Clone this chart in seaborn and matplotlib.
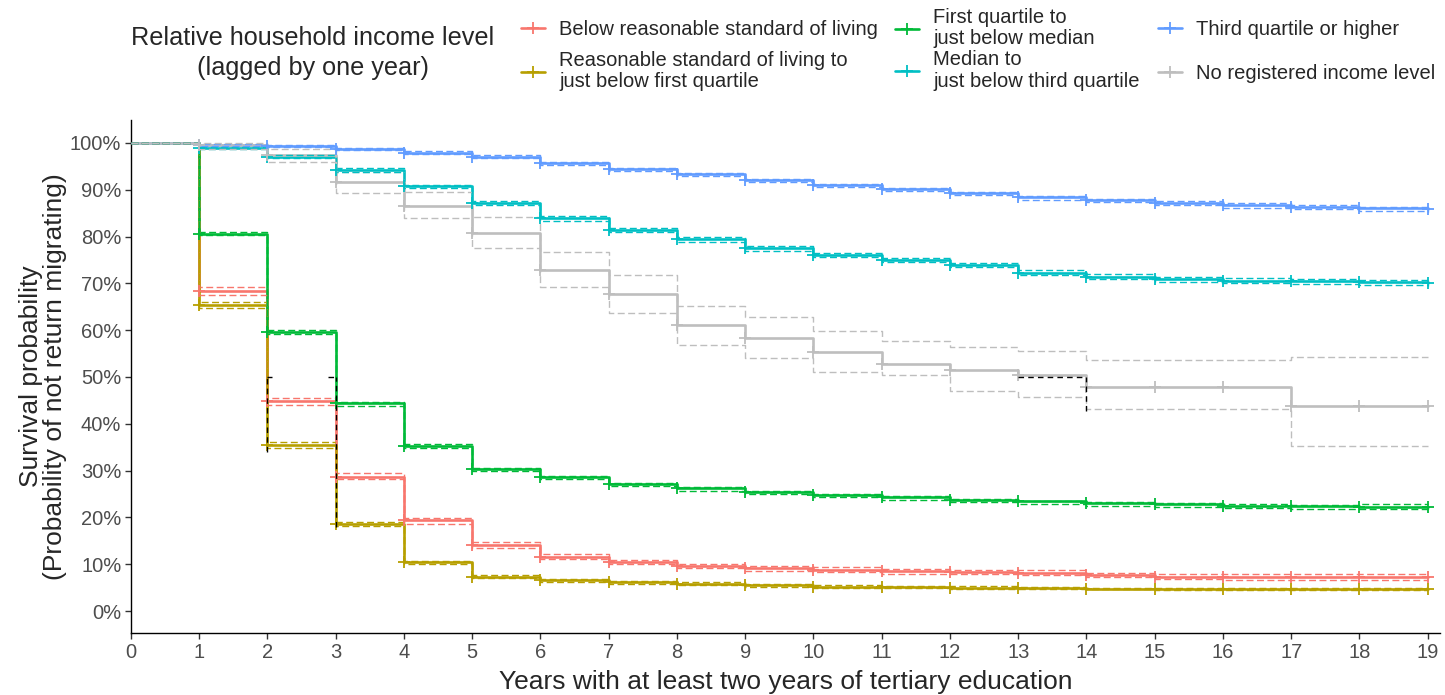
import numpy as np
import pandas as pd
import matplotlib.pyplot as plt
import seaborn as sns
from matplotlib.lines import Line2D

# survival (%) at the start of each year 0..19, step curves
years = list(range(20))

groups = [
    "Below reasonable standard of living",
    "Reasonable standard of living to\njust below first quartile",
    "First quartile to\njust below median",
    "Median to\njust below third quartile",
    "Third quartile or higher",
    "No registered income level",
]
colors = ["#F8766D", "#B79F00", "#00BA38", "#00BFC4", "#619CFF", "#BEBEBE"]

surv_below = [100, 68.4, 44.9, 28.7, 19.4, 14.2, 11.6, 10.5, 9.6, 9.1, 8.8, 8.5, 8.3, 8.2, 7.7, 7.3, 7.2, 7.2, 7.2, 7.2]
hi_below = [100, 69.3, 45.6, 29.4, 19.9, 14.8, 12.1, 11.0, 10.1, 9.6, 9.3, 9.0, 8.8, 8.7, 8.2, 7.8, 7.8, 7.8, 7.8, 7.8]
lo_below = [100, 67.5, 44.0, 28.1, 18.5, 13.5, 11.1, 10.0, 9.1, 8.6, 8.3, 8.0, 7.8, 7.6, 7.2, 6.8, 6.7, 6.7, 6.6, 6.6]

surv_q1 = [100, 65.4, 35.5, 18.6, 10.4, 7.3, 6.6, 6.3, 5.8, 5.6, 5.2, 5.1, 5.0, 5.0, 4.8, 4.7, 4.7, 4.7, 4.7, 4.7]
hi_q1 = [100, 66.0, 36.1, 19.1, 10.6, 7.6, 6.9, 6.5, 6.1, 5.8, 5.5, 5.4, 5.3, 5.2, 5.0, 5.0, 5.0, 5.0, 5.0, 5.0]
lo_q1 = [100, 64.7, 34.8, 18.1, 10.0, 7.0, 6.3, 5.8, 5.5, 5.2, 5.0, 4.9, 4.8, 4.7, 4.6, 4.5, 4.5, 4.5, 4.5, 4.5]

surv_med = [100, 80.6, 59.7, 44.4, 35.3, 30.3, 28.6, 27.1, 26.2, 25.4, 24.8, 24.3, 23.7, 23.4, 23.0, 22.8, 22.5, 22.4, 22.3, 22.2]
hi_med = [100, 81.0, 60.0, 44.7, 35.6, 30.6, 28.8, 27.3, 26.4, 25.6, 25.0, 24.5, 23.9, 23.6, 23.2, 23.0, 22.8, 22.7, 22.8, 22.8]
lo_med = [100, 80.3, 59.1, 43.9, 34.8, 29.9, 28.1, 26.7, 25.7, 24.9, 24.3, 23.8, 23.3, 22.9, 22.5, 22.3, 22.0, 21.8, 21.7, 21.6]

surv_q3 = [100, 99.0, 97.1, 94.2, 90.7, 87.2, 83.9, 81.4, 79.4, 77.5, 76.1, 75.0, 73.9, 72.3, 71.4, 70.9, 70.6, 70.4, 70.2, 70.1]
hi_q3 = [100, 99.2, 97.4, 94.6, 91.1, 87.6, 84.3, 81.8, 79.8, 77.9, 76.5, 75.4, 74.3, 72.8, 71.9, 71.4, 71.1, 70.9, 70.7, 70.6]
lo_q3 = [100, 98.7, 96.8, 93.8, 90.3, 86.8, 83.4, 80.9, 78.9, 77.0, 75.6, 74.5, 73.4, 71.8, 70.9, 70.3, 70.0, 69.8, 69.6, 69.5]

surv_top = [100, 99.6, 99.4, 98.7, 97.9, 97.1, 95.7, 94.4, 93.3, 92.1, 91.0, 90.1, 89.2, 88.4, 87.8, 87.2, 86.8, 86.3, 86.0, 85.9]
hi_top = [100, 99.8, 99.6, 98.9, 98.2, 97.4, 96.0, 94.7, 93.6, 92.4, 91.3, 90.4, 89.5, 88.7, 88.1, 87.6, 87.1, 86.7, 86.4, 86.3]
lo_top = [100, 99.3, 99.1, 98.4, 97.6, 96.8, 95.3, 94.0, 92.9, 91.7, 90.6, 89.7, 88.8, 87.9, 87.3, 86.7, 86.2, 85.8, 85.4, 85.3]

surv_none = [100, 99.5, 97.4, 91.7, 86.6, 80.7, 72.9, 67.7, 61.1, 58.3, 55.3, 52.8, 51.4, 50.5, 47.9, 47.9, 47.9, 43.8, 43.8, 43.8]
hi_none = [100, 100, 98.6, 93.8, 89.6, 84.1, 76.8, 71.7, 65.2, 62.9, 59.9, 57.7, 56.3, 55.6, 53.6, 53.6, 53.6, 54.3, 54.3, 54.3]
lo_none = [100, 98.8, 96.0, 89.4, 83.9, 77.6, 69.3, 63.6, 56.8, 54.0, 51.1, 50.4, 46.9, 45.7, 43.1, 43.1, 43.1, 35.3, 35.3, 35.3]

# median survival guide lines (black dashed)
median_x = [2, 3, 14]
median_low = [34.0, 18.0, 42.7]
median_h_from = [2.0, 2.88, 13.0]
median_h_to = [2.06, 3.0, 14.0]

surv_all = [surv_below, surv_q1, surv_med, surv_q3, surv_top, surv_none]
hi_all = [hi_below, hi_q1, hi_med, hi_q3, hi_top, hi_none]
lo_all = [lo_below, lo_q1, lo_med, lo_q3, lo_top, lo_none]

frames = []
for g, s, h, l in zip(groups, surv_all, hi_all, lo_all):
    frames.append(pd.DataFrame({"time": years, "surv": s, "hi": h, "lo": l, "group": g}))
df = pd.concat(frames, ignore_index=True)
palette = dict(zip(groups, colors))

sns.set_theme(style="ticks")
plt.rcParams["font.family"] = ["Liberation Sans", "DejaVu Sans"]

fig = plt.figure(figsize=(14.45, 6.95), dpi=100)
ax = fig.add_axes([131 / 1445, 62 / 695, 1309 / 1445, 513 / 695])

sns.lineplot(data=df, x="time", y="surv", hue="group", hue_order=groups,
             palette=palette, estimator=None, drawstyle="steps-post",
             lw=1.9, legend=False, ax=ax, zorder=2)
for col in ["hi", "lo"]:
    sns.lineplot(data=df, x="time", y=col, hue="group", hue_order=groups,
                 palette=palette, estimator=None, drawstyle="steps-post",
                 lw=1.0, linestyle=(0, (5, 2.5)), legend=False, ax=ax, zorder=3)

# censoring marks
marks = df[df["time"] > 0]
for g in groups:
    d = marks[marks["group"] == g]
    ax.plot(d["time"], d["surv"], ls="none", marker="+", ms=8, mew=1.3,
            color=palette[g], zorder=4)

ax.vlines(median_x, median_low, 50, colors="black", lw=1.0,
          linestyles=(0, (4, 3)), zorder=5)
ax.hlines([50] * len(median_h_from), median_h_from, median_h_to, colors="black",
          lw=1.0, linestyles=(0, (4, 3)), zorder=5)

ax.set_xlim(0, 19.18)
ax.set_ylim(-4.7, 104.9)
ax.set_xticks(range(0, 20))
ax.set_yticks(range(0, 101, 10))
ax.set_yticklabels([f"{v}%" for v in range(0, 101, 10)])
ax.tick_params(axis="both", labelsize=14.5, labelcolor="#4D4D4D", length=4,
               width=1.0, color="#333333", pad=3)
for sp in ["left", "bottom"]:
    ax.spines[sp].set_color("black")
    ax.spines[sp].set_linewidth(1.0)
sns.despine(ax=ax)

ax.set_xlabel("Years with at least two years of tertiary education",
              fontsize=19, labelpad=6)
ax.set_ylabel("Survival probability\n(Probability of not return migrating)",
              fontsize=19, labelpad=2, linespacing=1.0)

# legend: title on the left, three columns of two entries
fig.text(313 / 1445, 1 - 38 / 695, "Relative household income level",
         ha="center", va="center", fontsize=18.2)
fig.text(313 / 1445, 1 - 68 / 695, "(lagged by one year)",
         ha="center", va="center", fontsize=18.2)

handles = [Line2D([], [], color=c, lw=1.9, marker="+", ms=8, mew=1.3) for c in colors]
cols = [(0, 1, 521, 20, 0.6), (2, 3, 895, 8, 0.1), (4, 5, 1158, 20, 1.25)]
for i, j, x0, y0, sp in cols:
    leg = fig.legend([handles[i], handles[j]], [groups[i], groups[j]],
                     loc="upper left", bbox_to_anchor=(x0 / 1445, 1 - y0 / 695),
                     frameon=False, fontsize=14.5, handlelength=1.2,
                     handletextpad=0.7, labelspacing=sp, borderpad=0,
                     borderaxespad=0)
    for t in leg.get_texts():
        t.set_linespacing(1.15)

fig.savefig("out.png", dpi=100)
